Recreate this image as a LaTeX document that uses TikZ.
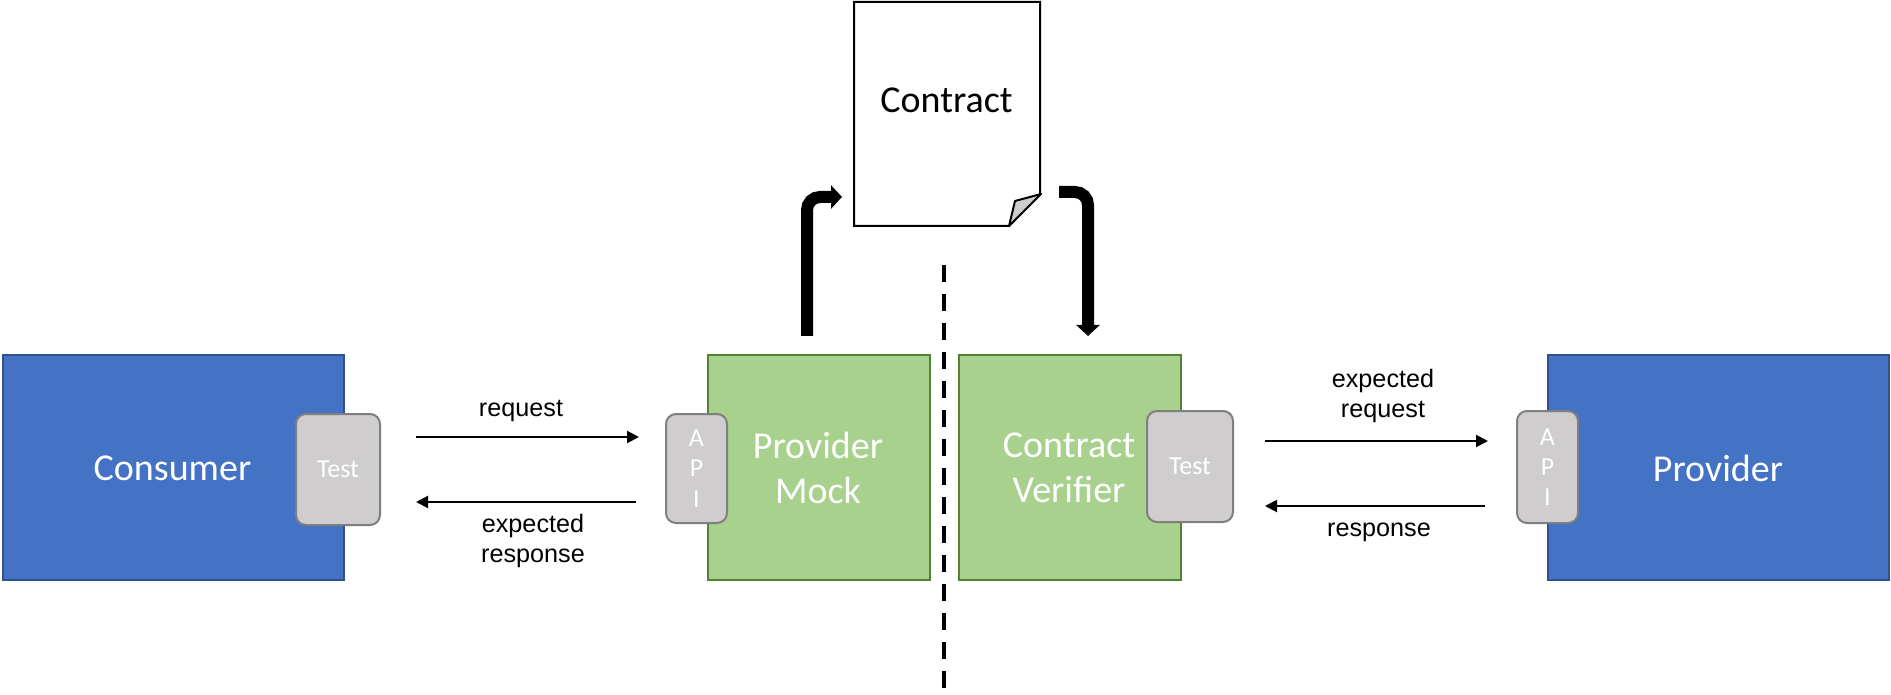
\documentclass[tikz,border=0pt]{standalone}
\usepackage{fontspec}
\setmainfont{Carlito}
\newfontfamily\arialish{Liberation Sans}
\usetikzlibrary{arrows.meta}
\definecolor{bluefill}{HTML}{4472C4}
\definecolor{blueedge}{HTML}{2F528F}
\definecolor{greenfill}{HTML}{A9D18E}
\definecolor{greenedge}{HTML}{548235}
\definecolor{tabfill}{HTML}{CFCDCE}
\definecolor{tabedge}{HTML}{7F7F7F}
\definecolor{foldfill}{HTML}{CDCDCD}
\tikzset{
  bigbox/.style={inner sep=0pt,outer sep=0pt,line width=1pt,minimum height=112.5pt},
  bluebox/.style={bigbox,draw=blueedge,fill=bluefill,minimum width=170.5pt},
  greenbox/.style={bigbox,draw=greenedge,fill=greenfill,minimum width=111pt},
  boxlabel/.style={text=white,align=center,inner sep=0pt,font=\fontsize{19}{22.5}\selectfont},
  tab/.style={draw=tabedge,fill=tabfill,line width=1pt,rounded corners=5pt,inner sep=0pt,outer sep=0pt,text=white,align=center,font=\fontsize{13}{14.5}\selectfont},
  flow/.style={line width=1pt,-{Triangle[length=6pt,width=6pt]}},
  thick flow/.style={line width=6pt,rounded corners=6.5pt,-{Triangle[length=5.5pt,width=11.5pt]}},
  flowlabel/.style={inner sep=0pt,align=center,font=\arialish\fontsize{12.6}{15}\selectfont},
  sheet/.style={draw=black,fill=white,line width=1pt,line join=miter},
}
\begin{document}
\begin{tikzpicture}[x=0.5pt,y=-0.5pt]
\useasboundingbox (0,0) rectangle (1891,695);
% divider
\coordinate (divtop) at (944,265);
\coordinate (divbot) at (944,690);
\draw[line width=2pt,dash pattern=on 8.5pt off 6pt] (divtop) -- (divbot);
% contract sheet
\draw[sheet] (854,2) -- (1040,2) -- (1040,194) -- (1009,226) -- (854,226) -- cycle;
\draw[sheet,fill=foldfill,line join=round] (1009,226) -- (1015,201) -- (1041,194) -- cycle;
\node[font=\fontsize{19}{22}\selectfont,inner sep=0pt] (contract) at (946.5,100) {Contract};
% boxes
\node[bluebox] (consumer) at (173,467.5) {};
\node[boxlabel] (consumerlabel) at (172.5,468) {Consumer};
\node[greenbox] (mock) at (819,467.5) {};
\node[boxlabel] (mocklabel) at (818,468) {Provider\\Mock};
\node[greenbox] (verifier) at (1070,467.5) {};
\node[boxlabel] (verifierlabel) at (1069,468) {Contract\\Verifier};
\node[bluebox] (provider) at (1718,467.5) {};
\node[boxlabel] (providerlabel) at (1718,468) {Provider};
% tabs
\node[tab,minimum width=42pt,minimum height=55.5pt] (test1) at (338,469.5) {Test};
\node[tab,minimum width=30.5pt,minimum height=54.5pt] (api1) at (696.5,468.5) {A\\[0.6pt]P\\[0.6pt]I};
\node[tab,minimum width=43pt,minimum height=55.5pt] (test2) at (1190,466.5) {Test};
\node[tab,minimum width=30.5pt,minimum height=56pt] (api2) at (1547.5,467) {A\\[0.6pt]P\\[0.6pt]I};
% thin arrows
\coordinate (a1) at (416,437); \coordinate (a2) at (639,437);
\coordinate (b1) at (636,502); \coordinate (b2) at (416,502);
\coordinate (c1) at (1265,441); \coordinate (c2) at (1488,441);
\coordinate (d1) at (1485,506); \coordinate (d2) at (1265,506);
\draw[flow] (a1) -- (a2);
\draw[flow] (b1) -- (b2);
\draw[flow] (c1) -- (c2);
\draw[flow] (d1) -- (d2);
% thick arrows
\coordinate (e1) at (807,336); \coordinate (e2) at (807,197); \coordinate (e3) at (842,197);
\coordinate (f1) at (1059,192); \coordinate (f2) at (1088,192); \coordinate (f3) at (1088,336);
\draw[thick flow] (e1) -- (e2) -- (e3);
\draw[thick flow] (f1) -- (f2) -- (f3);
% labels
\node[flowlabel] (l1) at (521,411) {request};
\node[flowlabel] (l2) at (533,541) {expected\\response};
\node[flowlabel] (l3) at (1383,396) {expected\\request};
\node[flowlabel] (l4) at (1379,532) {response};
\end{tikzpicture}
\end{document}
